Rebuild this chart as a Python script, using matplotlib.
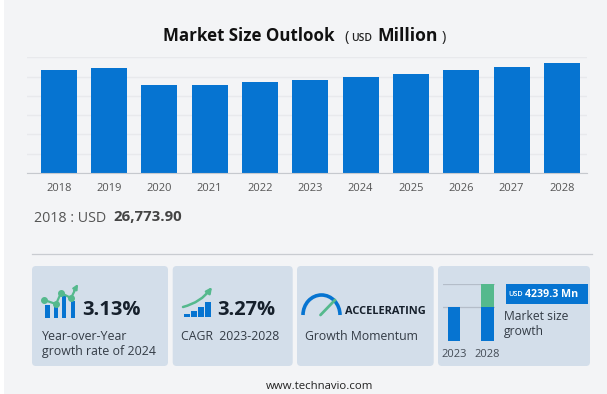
# coding=utf-8
import matplotlib
matplotlib.use('Agg')
import matplotlib.pyplot as plt
from matplotlib.patches import Arc, FancyBboxPatch, Rectangle

years = ['2018', '2019', '2020', '2021', '2022', '2023', '2024', '2025', '2026', '2027', '2028']
market_size = [26774, 27300, 22720, 22800, 23500, 24190, 24970, 25740, 26590, 27550, 28480]
y_ticks = [0, 5000, 10000, 15000, 20000, 25000, 30000]

mini_years = ['2023', '2028']
mini_base = [24190, 24190]
mini_growth = [0, 4239.3 * 4]

BLUE = '#0674d1'
GREEN = '#55b98d'
CARD = '#d3deea'
BG = '#f3f4f6'

W, H = 607, 394
plt.rcParams['font.family'] = ['Open Sans', 'DejaVu Sans']

fig = plt.figure(figsize=(W / 100, H / 100), dpi=100, facecolor='white')


def make_axes(left, top, right, bottom):
    # pixel box -> figure fraction
    return fig.add_axes([left / W, 1 - bottom / H, (right - left) / W, (bottom - top) / H])


# page in pixel coordinates
page = fig.add_axes([0, 0, 1, 1])
page.set_xlim(0, W)
page.set_ylim(H, 0)
page.axis('off')
page.add_patch(Rectangle((4, 0), W - 4, H, fc=BG, ec='none'))

page.text(163, 36, 'Market Size Outlook', fontsize=12.2, fontweight='bold', color='#111111', va='center')
page.text(344, 37, '(', fontsize=10.5, color='#222222', va='center')
page.text(351, 38, 'USD', fontsize=7.5, fontweight='semibold', color='#222222', va='center')
page.text(377, 36, 'Million', fontsize=12.6, fontweight='bold', color='#111111', va='center')
page.text(442, 37, ')', fontsize=10.5, color='#222222', va='center')

page.text(34, 218, '2018 : USD', fontsize=10.3, color='#555555', va='center')
page.text(113.5, 217, '26,773.90', fontsize=10.8, fontweight='bold', color='#444444', va='center')

page.plot([32, 592], [253.7, 253.7], color='#c9ccd1', lw=0.9)

# cards
for left, right in [(32, 168), (172.7, 292.7), (297, 433.7), (438, 590)]:
    page.add_patch(FancyBboxPatch((left + 4, 270), right - left - 8, 92,
                                  boxstyle='round,pad=4,rounding_size=4', fc=CARD, ec='none'))

# card 1
for x, top in [(45, 305), (53.5, 302), (61.5, 296), (70.5, 301)]:
    page.add_patch(Rectangle((x, top), 4.5, 318 - top, fc=BLUE, ec='none'))
page.plot([44, 56, 61, 71, 76], [300, 304, 293, 298, 288], color=GREEN, lw=1.6)
page.plot([44, 56, 61, 71], [300, 304, 293, 298], 'o', color=GREEN, ms=4)
page.annotate('', xy=(78, 284), xytext=(74, 291),
              arrowprops=dict(arrowstyle='-|>', color=GREEN, lw=1.5, mutation_scale=7, shrinkA=0, shrinkB=0))
page.text(82, 310, '3.13%', fontsize=14.5, fontweight='bold', color='#16202c', va='center')
page.text(41.5, 336, 'Year-over-Year', fontsize=8.95, color='#333b45', va='center')
page.text(41.5, 351, 'growth rate of 2024', fontsize=8.95, color='#333b45', va='center')

# card 2
for x, top in [(183.5, 314), (191, 311), (198, 307), (205, 301.5)]:
    page.add_patch(Rectangle((x, top), 6, 317 - top, fc=BLUE, ec='none'))
page.annotate('', xy=(212, 287), xytext=(183, 307),
              arrowprops=dict(arrowstyle='-|>', color=GREEN, lw=1.8, mutation_scale=8, shrinkA=0, shrinkB=0,
                              connectionstyle='arc3,rad=0.18'))
page.text(217, 310, '3.27%', fontsize=14.5, fontweight='bold', color='#16202c', va='center')
page.text(181, 336, 'CAGR  2023-2028', fontsize=8.85, color='#333b45', va='center')

# card 3
page.add_patch(Arc((321.5, 315), 37, 40, theta1=180, theta2=360, ec=BLUE, lw=2.6))
page.plot([320.5, 335], [315, 300], color=GREEN, lw=2, solid_capstyle='round')
page.text(345, 311, 'ACCELERATING', fontsize=7.9, fontweight='bold', color='#16202c', va='center')
page.text(305, 336, 'Growth Momentum', fontsize=8.8, color='#333b45', va='center')

# card 4
page.add_patch(Rectangle((506, 284), 82, 20, fc=BLUE, ec='none'))
page.text(508, 295, 'USD', fontsize=5.2, fontweight='semibold', color='white', va='center')
page.text(525, 294.5, '4239.3 Mn', fontsize=7.7, fontweight='bold', color='white', va='center')
page.text(504, 317, 'Market size', fontsize=8.7, color='#333b45', va='center')
page.text(504, 332, 'growth', fontsize=8.7, color='#333b45', va='center')

mini = make_axes(443, 283.5, 495, 341)
mini.patch.set_alpha(0)
mini.bar(mini_years, mini_base, width=0.373, color=BLUE)
mini.bar(mini_years, mini_growth, bottom=mini_base, width=0.373, color=GREEN)
mini.set_ylim(0, mini_base[1] + mini_growth[1])
mini.set_xlim(-0.328, 1.224)
mini.set_yticks([mini_base[0], mini_base[1] + mini_growth[1]])
mini.set_yticklabels([])
mini.grid(axis='y', color='#b4bdc9', lw=0.9)
mini.set_axisbelow(True)
mini.tick_params(length=0, labelsize=8, labelcolor='#444c56', pad=5.5)
for s in mini.spines.values():
    s.set_visible(False)

page.text(319.5, 386.5, 'www.technavio.com', fontsize=8.2, color='#222222', ha='center', va='center')

# main chart
ax = make_axes(27, 57.3, 587, 173)
ax.patch.set_alpha(0)
ax.bar(years, market_size, width=0.716, color=BLUE)
ax.set_xlim(-0.63, 10.5)
ax.set_ylim(0, 30000)
ax.set_yticks(y_ticks)
ax.set_yticklabels([])
ax.grid(axis='y', color='#e8e9ec', lw=1)
ax.set_axisbelow(True)
ax.tick_params(axis='y', length=0)
ax.tick_params(axis='x', length=0, labelsize=8, labelcolor='#555555', pad=7)
for name, s in ax.spines.items():
    s.set_visible(name == 'bottom')
ax.spines['bottom'].set_color('#c6c9ce')

fig.savefig('out.png', dpi=100)
plt.close(fig)
